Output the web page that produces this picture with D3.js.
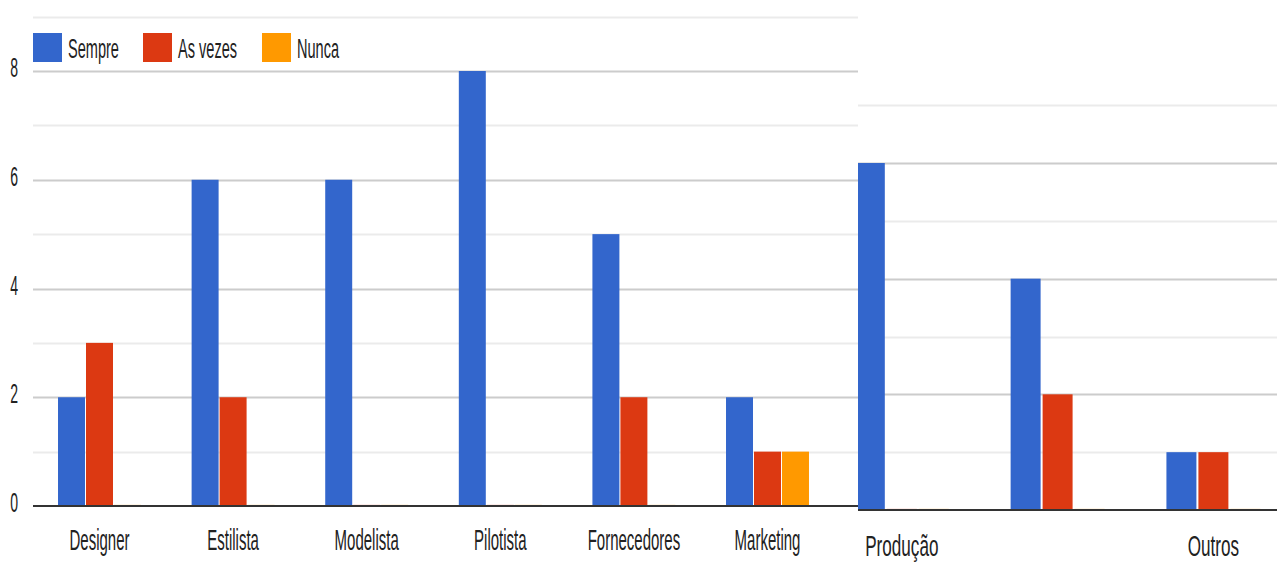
<!DOCTYPE html>
<html>
<head>
<meta charset="utf-8">
<script src="https://cdn.jsdelivr.net/npm/d3@7/dist/d3.min.js"></script>
<style>
  html, body { margin: 0; padding: 0; background: #fff; }
  svg { display: block; }
  text { font-family: "Liberation Sans", Arial, sans-serif; fill: #222; }
</style>
</head>
<body>
<svg id="chart" width="1277" height="562"></svg>
<script>
// Frequência de contato por área
const categories = ["Designer", "Estilista", "Modelista", "Pilotista", "Fornecedores", "Marketing", "Produção", "", "Outros"];
const series = ["Sempre", "As vezes", "Nunca"];
const sempre  = [2, 6, 6, 8, 5, 2, 6, 4, 1];
const asVezes = [3, 2, 0, 0, 2, 1, 0, 2, 1];
const nunca   = [0, 0, 0, 0, 0, 1, 0, 0, 0];
const yTicks = [0, 2, 4, 6, 8];
const colors = ["#3366cc", "#dc3912", "#ff9900"];
const leftCount = 6; // categories drawn in the first panel

const values = [sempre, asVezes, nunca];
const rows = categories.map((c, i) => ({
  cat: c,
  vals: series.map((s, j) => ({ key: s, value: values[j][i] }))
}));

const svg = d3.select("#chart");
const W = 1277, H = 562, split = 858;

svg.append("defs").call(d => {
  d.append("clipPath").attr("id", "clipL").append("rect")
    .attr("x", 0).attr("y", 0).attr("width", split).attr("height", H);
  d.append("clipPath").attr("id", "clipR").append("rect")
    .attr("x", split).attr("y", 0).attr("width", W - split).attr("height", H);
});

function scaledText(sel, sx) {
  // narrow, tall lettering
  sel.each(function () {
    const t = d3.select(this);
    const x = +t.attr("x") || 0;
    const y = +t.attr("y") || 0;
    t.attr("x", 0).attr("y", 0)
      .attr("transform", `translate(${x},${y}) scale(${sx},1)`);
  });
}

function panel(opts) {
  const g = svg.append("g").attr("clip-path", `url(#${opts.clip})`);
  const x0 = d3.scaleBand().domain(opts.rows.map(d => d.cat + "|" + d.idx))
    .range(opts.xRange).paddingInner(opts.pad).paddingOuter(opts.pad / 2);
  const x1 = d3.scaleBand().domain(series).range([0, x0.bandwidth()]).paddingInner(opts.innerPad);
  const y = d3.scaleLinear().domain(opts.yDomain).range(opts.yRange);

  // gridlines
  g.append("g").selectAll("line").data(opts.grid).join("line")
    .attr("x1", opts.gx[0]).attr("x2", opts.gx[1])
    .attr("y1", d => Math.round(y(d)) + 0.5).attr("y2", d => Math.round(y(d)) + 0.5)
    .attr("stroke", d => d % 2 === 0 ? "#cccccc" : "#ebebeb")
    .attr("stroke-width", 2);

  // bars
  const grp = g.append("g").selectAll("g").data(opts.rows).join("g")
    .attr("transform", d => `translate(${x0(d.cat + "|" + d.idx)},0)`);
  grp.selectAll("rect").data(d => d.vals).join("rect")
    .attr("x", d => x1(d.key))
    .attr("width", x1.bandwidth())
    .attr("y", d => d.value > 0 ? y(d.value) : y(0) - 1.5)
    .attr("height", d => d.value > 0 ? y(0) - y(d.value) : 1.5)
    .attr("fill", (d, i) => colors[i])
    .attr("opacity", d => d.value > 0 ? 1 : 0.2);

  // baseline
  g.append("line")
    .attr("x1", opts.gx[0]).attr("x2", opts.gx[1])
    .attr("y1", y(0)).attr("y2", y(0))
    .attr("stroke", "#333").attr("stroke-width", 2.2);

  // category labels
  const xa = g.append("g").attr("transform", `translate(0,${y(0)})`)
    .call(d3.axisBottom(x0).tickSize(0).tickPadding(0).tickFormat(k => k.split("|")[0]));
  xa.select(".domain").remove();
  xa.selectAll("text")
    .attr("dy", null)
    .attr("y", opts.labelDy)
    .style("font-size", opts.labelSize + "px")
    .style("font-family", "'Liberation Sans', Arial, sans-serif")
    .attr("fill", "#222")
    .call(scaledText, opts.labelScale);
  return y;
}

const leftRows = rows.slice(0, leftCount).map((d, i) => ({ ...d, idx: i }));
const rightRows = rows.slice(leftCount).map((d, i) => ({ ...d, idx: i + leftCount }));

const yL = panel({
  clip: "clipL", rows: leftRows,
  xRange: [32.7, 834.3], pad: 0.379, innerPad: 0.036,
  yDomain: [0, 8], yRange: [506, 71],
  grid: [1, 2, 3, 4, 5, 6, 7, 8, 9], gx: [33, split],
  labelDy: 44, labelSize: 30, labelScale: 0.5
});

panel({
  clip: "clipR", rows: rightRows,
  xRange: [823.9, 1291.3], pad: 0.397, innerPad: 0.0625,
  yDomain: [0, 6], yRange: [510, 163],
  grid: [1, 2, 3, 4, 5, 6, 7], gx: [split, W],
  labelDy: 46, labelSize: 30, labelScale: 0.57
});

// value axis
const ya = svg.append("g").attr("transform", "translate(18,0)")
  .call(d3.axisLeft(yL).tickValues(yTicks).tickSize(0).tickPadding(0).tickFormat(d3.format("d")));
ya.select(".domain").remove();
ya.selectAll("text")
  .attr("dy", "0.36em")
  .attr("y", -4)
  .style("font-size", "27px")
  .style("font-family", "'Liberation Sans', Arial, sans-serif")
  .attr("fill", "#222")
  .call(scaledText, 0.52);

// legend
const legendX = [33, 143, 262];
const lg = svg.append("g").selectAll("g").data(series).join("g")
  .attr("transform", (d, i) => `translate(${legendX[i]},33)`);
lg.append("rect").attr("width", 29).attr("height", 29).attr("fill", (d, i) => colors[i]);
lg.append("text")
  .attr("x", 35).attr("y", 25)
  .style("font-size", "28px")
  .text(d => d)
  .call(scaledText, 0.52);
</script>
</body>
</html>
